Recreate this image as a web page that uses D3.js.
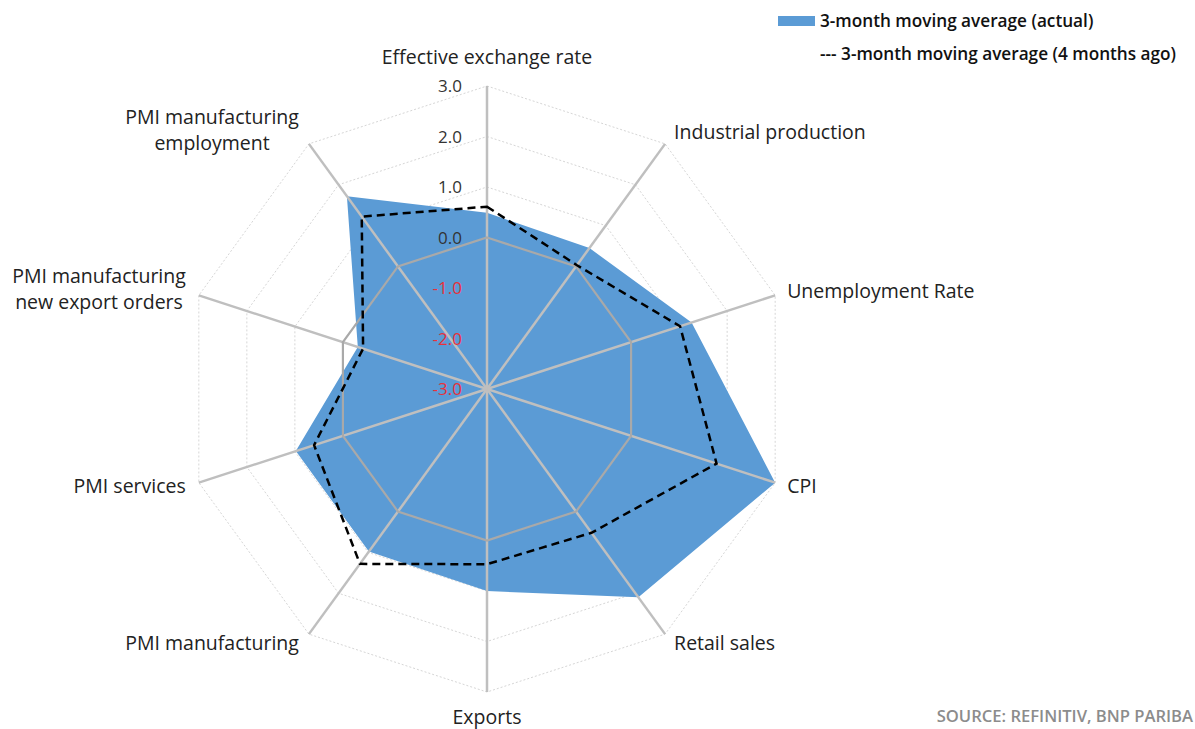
<!DOCTYPE html>
<html>
<head>
<meta charset="utf-8">
<script src="https://cdn.jsdelivr.net/npm/d3@7"></script>
<style>
  html, body { margin: 0; padding: 0; background: #fff; }
  svg { display: block; font-family: "Open Sans", "Noto Sans", sans-serif; }
</style>
</head>
<body>
<svg id="chart" width="1195" height="729"></svg>
<script>
const categories = [
  ["Effective exchange rate"],
  ["Industrial production"],
  ["Unemployment Rate"],
  ["CPI"],
  ["Retail sales"],
  ["Exports"],
  ["PMI manufacturing"],
  ["PMI services"],
  ["PMI manufacturing", "new export orders"],
  ["PMI manufacturing", "employment"]
];
const actual   = [0.49, 0.45, 1.26, 3.0, 2.10, 1.0, 0.98, 0.98, -0.31, 1.72];
const previous = [0.61, 0.03, 1.02, 1.78, 0.52, 0.47, 1.28, 0.60, -0.42, 1.22];
const tickValues = [-3, -2, -1, 0, 1, 2, 3];
const seriesNames = ["3-month moving average (actual)", "--- 3-month moving average (4 months ago)"];
const sourceText = "SOURCE: REFINITIV, BNP PARIBA";

const svg = d3.select("#chart");
const cx = 487, cy = 389, R = 303;
const n = categories.length;
const r = d3.scaleLinear().domain([-3, 3]).range([0, R]);
const angle = d3.scaleLinear().domain([0, n]).range([0, 2 * Math.PI]);
const pt = (i, v) => {
  const a = angle(i);
  return [cx + r(v) * Math.sin(a), cy - r(v) * Math.cos(a)];
};
const g = svg.append("g");
const line = d3.line().curve(d3.curveLinearClosed);

// dotted grid rings
g.selectAll(".ring").data(tickValues.filter(t => t > -3 && t !== 0)).join("path")
  .attr("d", t => line(d3.range(n).map(i => pt(i, t))))
  .attr("fill", "none").attr("stroke", "#d6d6d6").attr("stroke-width", 1)
  .attr("stroke-dasharray", "2,2");

// actual area
g.append("path")
  .attr("d", line(actual.map((v, i) => pt(i, v))))
  .attr("fill", "#5b9bd5");

// axes
g.selectAll(".axis").data(d3.range(n)).join("line")
  .attr("x1", cx).attr("y1", cy)
  .attr("x2", i => pt(i, 3)[0]).attr("y2", i => pt(i, 3)[1])
  .attr("stroke", "#bfbfbf").attr("stroke-width", 2.5);

// zero ring
g.append("path")
  .attr("d", line(d3.range(n).map(i => pt(i, 0))))
  .attr("fill", "none").attr("stroke", "#a9a9a9").attr("stroke-width", 2.2);

// previous dashed
g.append("path")
  .attr("d", line(previous.map((v, i) => pt(i, v))))
  .attr("fill", "none").attr("stroke", "#000").attr("stroke-width", 2.5)
  .attr("stroke-dasharray", "8,5");

// tick labels
g.selectAll(".tick").data(tickValues).join("text")
  .attr("x", cx - 25).attr("y", t => cy - r(t))
  .attr("dy", "0.36em").attr("text-anchor", "end")
  .attr("font-size", 17)
  .attr("fill", t => t < 0 ? "#e8313b" : "#333")
  .text(t => d3.format(".1f")(t).replace("−", "-"));

// category labels
categories.forEach((lines, i) => {
  const a = angle(i);
  const [ex, ey] = pt(i, 3);
  const s = Math.sin(a), c = Math.cos(a);
  let x, y, anchor;
  if (Math.abs(s) < 0.1) {
    x = ex; anchor = "middle";
    y = c > 0 ? ey - 29 : ey + 25;
  } else {
    x = ex + (s > 0 ? 9 : -10) + (Math.abs(s) > 0.9 ? (s > 0 ? 3 : -3) : 0);
    anchor = s > 0 ? "start" : "end";
    y = ey - (c > 0 ? 15 : 11) * c + (lines.length > 1 ? -2 : 0);
  }
  const t = g.append("text").attr("font-size", 19.5).attr("fill", "#222");
  const lh = 25.5;
  lines.forEach((ln, k) => {
    t.append("tspan").attr("y", y + (k - (lines.length - 1) / 2) * lh)
      .attr("dy", "0.36em").text(ln);
  });
  if (lines.length === 1) {
    t.attr("text-anchor", anchor).selectAll("tspan").attr("x", x);
  } else {
    t.attr("text-anchor", "middle");
    const widths = [];
    t.selectAll("tspan").each(function() { widths.push(this.getComputedTextLength()); });
    const w = d3.max(widths);
    const mid = anchor === "end" ? x - w / 2 : x + w / 2;
    t.selectAll("tspan").attr("x", mid);
  }
});

// legend
const lg = svg.append("g");
lg.append("rect").attr("x", 778).attr("y", 16).attr("width", 37).attr("height", 10).attr("fill", "#5b9bd5");
lg.append("text").attr("x", 820).attr("y", 21).attr("dy", "0.36em")
  .attr("font-size", 17.2).attr("font-weight", 600).attr("fill", "#111").text(seriesNames[0]);
lg.append("text").attr("x", 820).attr("y", 54).attr("dy", "0.36em")
  .attr("font-size", 17.2).attr("font-weight", 600).attr("fill", "#111").text(seriesNames[1]);

// source
svg.append("text").attr("x", 1193).attr("y", 716).attr("dy", "0.36em")
  .attr("text-anchor", "end").attr("font-size", 16.6).attr("font-weight", 600)
  .attr("fill", "#8c8c8c").text(sourceText);
</script>
</body>
</html>
